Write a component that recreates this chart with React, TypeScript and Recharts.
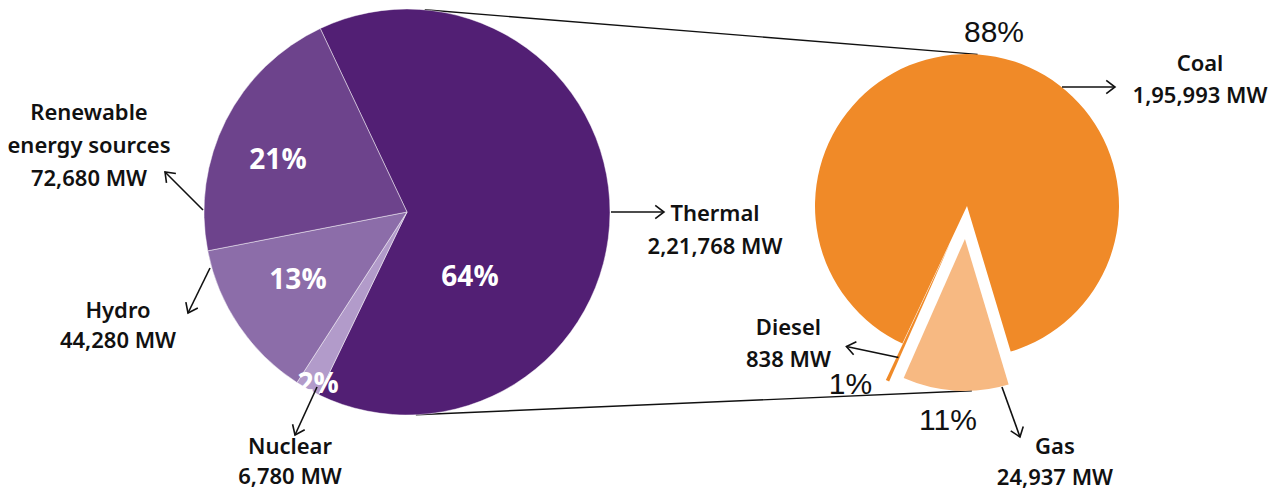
import { PieChart, Pie, Cell, Customized } from "recharts";

// installed capacity by source, MW
const mixNames = ["Thermal", "Nuclear", "Hydro", "Renewable energy sources"];
const mixMW = [221768, 6780, 44280, 72680];

// thermal split, MW
const thermalNames = ["Coal", "Diesel", "Gas"];
const thermalMW = [195993, 838, 24937];

const mixData = mixNames.map((name, i) => ({ name, value: mixMW[i] }));
const thermalData = thermalNames.map((name, i) => ({ name, value: thermalMW[i] }));

const W = 1281;
const H = 490;

const FILL: Record<string, string> = {
  Thermal: "#521f74",
  Nuclear: "#b29bca",
  Hydro: "#8c6da9",
  "Renewable energy sources": "#6d438c",
  Coal: "#f08a28",
  Diesel: "#f08a28",
  Gas: "#f7b982",
};

const LEFT = { cx: 407, cy: 212, r: 203, start: 115.3 };
const RIGHT = { cx: 967, cy: 206, r: 152, start: -73.3 };
// slices pulled out of the right pie, px along their bisector
const EXPLODE: Record<string, number> = { Gas: 33, Diesel: 40 };

const RAD = Math.PI / 180;

function midAngle(data: { name: string; value: number }[], name: string, start: number) {
  const total = data.reduce((s, d) => s + d.value, 0);
  let acc = 0;
  for (const d of data) {
    if (d.name === name) return start + ((acc + d.value / 2) / total) * 360;
    acc += d.value;
  }
  return start;
}

function explodedCenter(name: string) {
  const a = midAngle(thermalData, name, RIGHT.start) * RAD;
  const d = EXPLODE[name];
  return { cx: RIGHT.cx + d * Math.cos(a), cy: RIGHT.cy - d * Math.sin(a) };
}

type Callout = {
  pct: [number, number];
  from: [number, number];
  to: [number, number];
  text: [number, number];
  gap: number;
  lines?: string[];
};

// offsets from the centre of the pie that draws each slice
const CALLOUT: Record<string, Callout> = {
  Thermal: { pct: [63, 63], from: [204, 0], to: [257, 0], text: [308, 0], gap: 33 },
  "Renewable energy sources": {
    pct: [-129, -54],
    from: [-204, -2],
    to: [-242, -40],
    text: [-318, -101],
    gap: 33,
    lines: ["Renewable", "energy sources"],
  },
  Hydro: { pct: [-109, 66], from: [-197, 56], to: [-219, 101], text: [-289, 97], gap: 30 },
  Nuclear: { pct: [-89, 170], from: [-90, 175], to: [-112, 223], text: [-117, 233], gap: 30 },
  Coal: { pct: [27, -175], from: [95, -119], to: [148, -119], text: [233, -144], gap: 32 },
  Gas: { pct: [-17, 181], from: [37, 148], to: [55, 198], text: [90, 206], gap: 31 },
  Diesel: { pct: [-100, 141], from: [-52, 115], to: [-104, 104], text: [-162, 84], gap: 32 },
};

const LABEL_FONT = "'Noto Sans', sans-serif";

function Arrow({ x1, y1, x2, y2 }: { x1: number; y1: number; x2: number; y2: number }) {
  const a = Math.atan2(y2 - y1, x2 - x1);
  const h = 11;
  const s = 0.65;
  const p1 = `${x2 - h * Math.cos(a - s)},${y2 - h * Math.sin(a - s)}`;
  const p2 = `${x2 - h * Math.cos(a + s)},${y2 - h * Math.sin(a + s)}`;
  return (
    <g stroke="#111" strokeWidth={1.6} fill="none">
      <line x1={x1} y1={y1} x2={x2} y2={y2} />
      <polyline points={`${p1} ${x2},${y2} ${p2}`} />
    </g>
  );
}

function makeLabel(show: string[], inside: boolean) {
  return (p: any) => {
    const name: string = p.payload?.name ?? p.name;
    if (!show.includes(name)) return null;
    const c = CALLOUT[name];
    const { cx, cy } = p;
    const value: number = p.payload?.value ?? p.value;
    const pct = Math.max(1, Math.round(p.percent * 100));
    const lines = [...(c.lines ?? [name]), `${value.toLocaleString("en-IN")} MW`];
    return (
      <g key={name}>
        <text
          x={cx + c.pct[0]}
          y={cy + c.pct[1]}
          textAnchor="middle"
          dominantBaseline="central"
          fill={inside ? "#fff" : "#111"}
          fontFamily={inside ? "'Open Sans', sans-serif" : "'Liberation Sans', sans-serif"}
          fontWeight={inside ? 700 : 400}
          fontSize={inside ? 28 : 30}
        >
          {pct}%
        </text>
        <Arrow x1={cx + c.from[0]} y1={cy + c.from[1]} x2={cx + c.to[0]} y2={cy + c.to[1]} />
        {lines.map((t, i) => (
          <text
            key={i}
            x={cx + c.text[0]}
            y={cy + c.text[1] + i * c.gap}
            textAnchor="middle"
            dominantBaseline="central"
            fill="#111"
            fontFamily={LABEL_FONT}
            fontWeight={600}
            fontSize={22}
          >
            {t}
          </text>
        ))}
      </g>
    );
  };
}

// lines linking the thermal slice to the breakdown pie
const TOP_ANGLE = { left: 85, right: 86 };
const BOTTOM_ANGLE = { left: -87.5, right: -87.4 };

function Connectors() {
  const gas = explodedCenter("Gas");
  const pt = (cx: number, cy: number, r: number, deg: number) => [cx + r * Math.cos(deg * RAD), cy - r * Math.sin(deg * RAD)];
  const [ax, ay] = pt(LEFT.cx, LEFT.cy, LEFT.r, TOP_ANGLE.left);
  const [bx, by] = pt(RIGHT.cx, RIGHT.cy, RIGHT.r, TOP_ANGLE.right);
  const [cx1, cy1] = pt(LEFT.cx, LEFT.cy, LEFT.r, BOTTOM_ANGLE.left);
  const [dx, dy] = pt(gas.cx, gas.cy, RIGHT.r, BOTTOM_ANGLE.right);
  return (
    <g stroke="#111" strokeWidth={1.4}>
      <line x1={ax} y1={ay} x2={bx} y2={by} />
      <line x1={cx1} y1={cy1} x2={dx} y2={dy} />
    </g>
  );
}

export default function App() {
  const gas = explodedCenter("Gas");
  const diesel = explodedCenter("Diesel");
  const rightPie = (key: string, c: { cx: number; cy: number }, show: string[]) => (
    <Pie
      key={key}
      data={thermalData}
      dataKey="value"
      nameKey="name"
      cx={c.cx}
      cy={c.cy}
      outerRadius={RIGHT.r}
      startAngle={RIGHT.start}
      endAngle={RIGHT.start + 360}
      stroke="none"
      label={makeLabel(show, false)}
      labelLine={false}
      isAnimationActive={false}
    >
      {thermalData.map((d) => (
        <Cell key={d.name} fill={show.includes(d.name) ? FILL[d.name] : "transparent"} />
      ))}
    </Pie>
  );

  return (
    <div style={{ position: "absolute", left: 0, top: 0, width: W, height: H, background: "#fff" }}>
      <PieChart width={W} height={H} margin={{ top: 0, right: 0, bottom: 0, left: 0 }}>
        <Customized component={Connectors} />
        <Pie
          data={mixData}
          dataKey="value"
          nameKey="name"
          cx={LEFT.cx}
          cy={LEFT.cy}
          outerRadius={LEFT.r}
          startAngle={LEFT.start}
          endAngle={LEFT.start - 360}
          stroke="rgba(255,255,255,0.45)"
          strokeWidth={1}
          label={makeLabel(mixNames, true)}
          labelLine={false}
          isAnimationActive={false}
        >
          {mixData.map((d) => (
            <Cell key={d.name} fill={FILL[d.name]} />
          ))}
        </Pie>
        {rightPie("coal", RIGHT, ["Coal"])}
        {rightPie("diesel", diesel, ["Diesel"])}
        {rightPie("gas", gas, ["Gas"])}
      </PieChart>
    </div>
  );
}
